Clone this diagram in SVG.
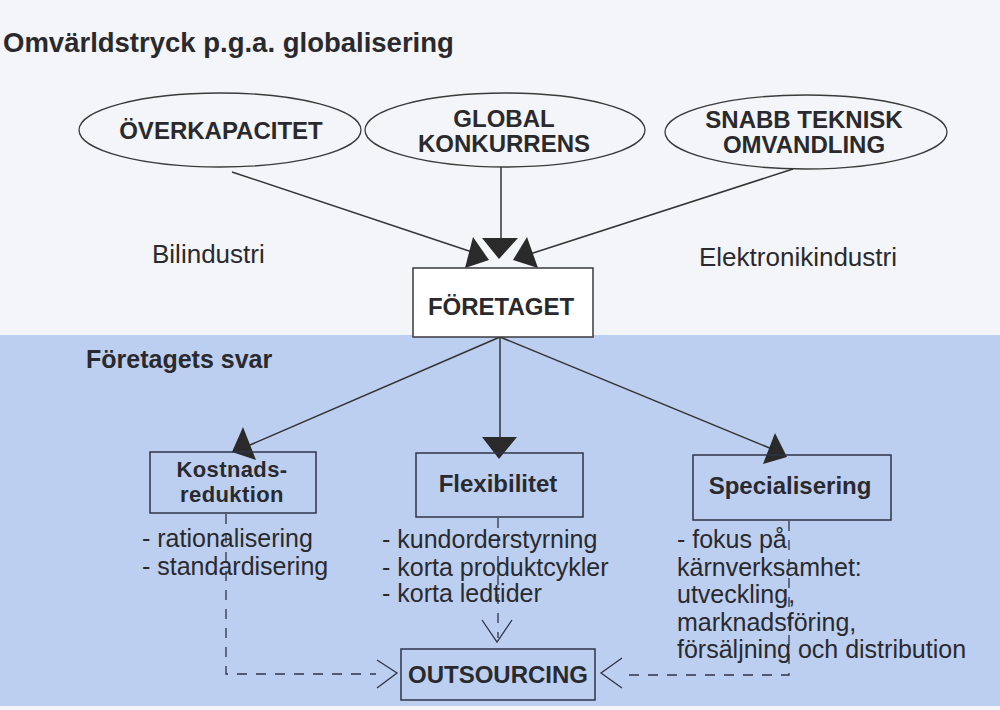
<svg xmlns="http://www.w3.org/2000/svg" width="1000" height="710" viewBox="0 0 1000 710">
<style>
.bg{fill:#f4f5f8}
.blue{fill:#bccff0}
.t{font-family:"Liberation Sans",Arial,Helvetica,sans-serif;fill:#2a2a2e}
.b{font-weight:bold}
.n{font-size:25px}
.lab{font-size:24px;font-weight:bold;text-anchor:middle}
.ell{fill:none;stroke:#3a3a3a;stroke-width:1.3}
.box{fill:none;stroke:#3a3a3e;stroke-width:1.5}
.boxb{fill:none;stroke:#2e3448;stroke-width:1.5}
.ln{fill:none;stroke:#333;stroke-width:1.5}
.dash{fill:none;stroke:#2e3448;stroke-width:1.3;stroke-dasharray:10,9}
.chev{fill:none;stroke:#2e3448;stroke-width:1.3}
.ah{fill:#2a2a2a}
</style>
<rect class="bg" x="0" y="0" width="1000" height="710"/>
<rect class="blue" x="0" y="335" width="1000" height="371"/>

<text class="t b" x="3" y="52" font-size="27.5">Omvärldstryck p.g.a. globalisering</text>
<text class="t" x="152" y="263" font-size="26">Bilindustri</text>
<text class="t" x="699" y="266" font-size="26">Elektronikindustri</text>
<text class="t b" x="86" y="368" font-size="25">Företagets svar</text>

<g id="connectors">
  <line class="ln" x1="232" y1="172" x2="472" y2="252"/>
  <line class="ln" x1="501" y1="167" x2="501" y2="240"/>
  <line class="ln" x1="793" y1="169" x2="530" y2="254"/>
  <polygon class="ah" points="473,237 465,268 489,260"/>
  <polygon class="ah" points="482,238 518,238 499,259"/>
  <polygon class="ah" points="527,237 538,268 513,260"/>

  <line class="ln" x1="500" y1="337" x2="250" y2="445"/>
  <line class="ln" x1="500" y1="337" x2="500" y2="440"/>
  <line class="ln" x1="500" y1="337" x2="772" y2="449"/>
  <polygon class="ah" points="243,427 232,452 256,460"/>
  <polygon class="ah" points="482,437 517,437 499,459"/>
  <polygon class="ah" points="775,433 763,464 787,457"/>

  <polyline class="dash" points="226,514 226,674 376,674"/>
  <polyline class="chev" points="377,660 397,673 377,688"/>
  <line class="dash" x1="498" y1="518" x2="498" y2="638"/>
  <polyline class="chev" points="482,620 497,642 512,620"/>
  <polyline class="dash" points="789,521 789,675 624,675"/>
  <polyline class="chev" points="622,658 601,673 622,688"/>
</g>

<g id="overkapacitet">
  <ellipse class="ell" cx="220" cy="130" rx="141" ry="37"/>
  <text class="t lab" x="221" y="139">ÖVERKAPACITET</text>
</g>
<g id="global">
  <ellipse class="ell" cx="505" cy="130" rx="140" ry="37"/>
  <text class="t lab" x="504" y="127">GLOBAL</text>
  <text class="t lab" x="504" y="152">KONKURRENS</text>
</g>
<g id="snabb">
  <ellipse class="ell" cx="806" cy="132" rx="141" ry="37"/>
  <text class="t lab" x="804" y="128">SNABB TEKNISK</text>
  <text class="t lab" x="804" y="153">OMVANDLING</text>
</g>
<g id="foretaget">
  <rect x="413" y="268" width="180" height="69" fill="#ffffff" stroke="#3a3a3e" stroke-width="1.5"/>
  <text class="t lab" x="501" y="315">FÖRETAGET</text>
</g>
<g id="kostnad">
  <rect class="boxb" x="150" y="452" width="166" height="61"/>
  <text class="t lab" x="232" y="477" style="font-size:22px;letter-spacing:0.4px">Kostnads-</text>
  <text class="t lab" x="232" y="502" style="font-size:22px;letter-spacing:0.4px">reduktion</text>
  <text class="t n" x="142" y="547">- rationalisering</text>
  <text class="t n" x="142" y="575">- standardisering</text>
</g>
<g id="flexibilitet">
  <rect class="boxb" x="416" y="453" width="167" height="64"/>
  <text class="t lab" x="498" y="492">Flexibilitet</text>
  <text class="t n" x="382" y="548">- kundorderstyrning</text>
  <text class="t n" x="382" y="576">- korta produktcykler</text>
  <text class="t n" x="382" y="602">- korta ledtider</text>
</g>
<g id="specialisering">
  <rect class="boxb" x="693" y="455" width="198" height="65"/>
  <text class="t lab" x="790" y="494">Specialisering</text>
  <text class="t n" x="677" y="548">- fokus på</text>
  <text class="t n" x="677" y="576">kärnverksamhet:</text>
  <text class="t n" x="677" y="603">utveckling,</text>
  <text class="t n" x="677" y="631">marknadsföring,</text>
  <text class="t n" x="677" y="658">försäljning och distribution</text>
</g>
<g id="outsourcing">
  <rect class="boxb" x="401" y="649" width="194" height="51"/>
  <text class="t lab" x="498" y="683">OUTSOURCING</text>
</g>
</svg>
